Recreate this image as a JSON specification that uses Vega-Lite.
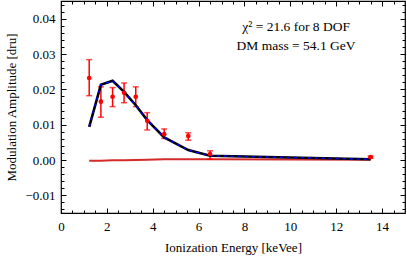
{
  "$schema": "https://vega.github.io/schema/vega-lite/v6.json",
  "autosize": "none",
  "width": 344,
  "height": 212,
  "padding": {"left": 61, "top": 1, "right": 2, "bottom": 46},
  "background": "white",
  "config": {
    "view": {"stroke": "black", "strokeWidth": 1.2},
    "font": "Liberation Serif",
    "axis": {"labelFont": "Liberation Serif", "titleFont": "Liberation Serif", "labelFontSize": 13, "titleFontSize": 13, "titleFontWeight": "normal", "labelColor": "black", "titleColor": "black", "tickColor": "black", "grid": false, "domain": false, "tickWidth": 1}
  },
  "datasets": {
    "pts": [
      {"e": 1.23, "amp": 0.0232, "lo": 0.0182, "hi": 0.0284},
      {"e": 1.74, "amp": 0.0165, "lo": 0.0121, "hi": 0.0207},
      {"e": 2.25, "amp": 0.0179, "lo": 0.0151, "hi": 0.0205},
      {"e": 2.75, "amp": 0.0190, "lo": 0.0162, "hi": 0.0218},
      {"e": 3.26, "amp": 0.0179, "lo": 0.0151, "hi": 0.0207},
      {"e": 3.76, "amp": 0.0111, "lo": 0.0085, "hi": 0.0134},
      {"e": 4.50, "amp": 0.0073, "lo": 0.0061, "hi": 0.0088},
      {"e": 5.55, "amp": 0.0068, "lo": 0.0056, "hi": 0.0077},
      {"e": 6.50, "amp": 0.0017, "lo": 0.0002, "hi": 0.0026},
      {"e": 13.5, "amp": 0.0008, "lo": 0.0005, "hi": 0.0011}
    ],
    "model": [
      {"e": 1.23, "fit": 0.0094, "bg": -0.0002},
      {"e": 1.74, "fit": 0.0213, "bg": -0.0002},
      {"e": 2.25, "fit": 0.0224, "bg": -0.0001},
      {"e": 2.75, "fit": 0.0193, "bg": -0.0001},
      {"e": 3.26, "fit": 0.0155, "bg": 0.0},
      {"e": 3.76, "fit": 0.0113, "bg": 0.0001},
      {"e": 4.50, "fit": 0.0064, "bg": 0.0002},
      {"e": 5.55, "fit": 0.0028, "bg": 0.0002},
      {"e": 6.50, "fit": 0.0012, "bg": 0.0002},
      {"e": 13.5, "fit": 0.0002, "bg": 0.0001}
    ],
    "notes": [
      {"e": 10.25, "y": 0.0364, "label": "χ² = 21.6 for 8 DOF"},
      {"e": 10.25, "y": 0.0310, "label": "DM mass = 54.1 GeV"}
    ]
  },
  "resolve": {"axis": {"x": "independent", "y": "independent"}},
  "layer": [
    {
      "mark": {"type": "rule", "color": "#b4b4b4", "strokeWidth": 1},
      "encoding": {
        "y": {"datum": 0, "type": "quantitative", "scale": {"domain": [-0.015, 0.045], "nice": false, "zero": false}, "axis": null}
      }
    },
    {
      "data": {"name": "model"},
      "mark": {"type": "line", "color": "#d42a2a", "strokeWidth": 2},
      "encoding": {
        "x": {"field": "e", "type": "quantitative", "scale": {"domain": [0, 15], "nice": false, "zero": false},
              "axis": {"orient": "bottom", "title": "Ionization Energy [keVee]", "values": [0, 2, 4, 6, 8, 10, 12, 14], "tickSize": -5, "labelPadding": 12, "titlePadding": 8, "labelFlush": false}},
        "y": {"field": "bg", "type": "quantitative", "scale": {"domain": [-0.015, 0.045], "nice": false, "zero": false},
              "axis": {"orient": "left", "title": "Modulation Amplitude [dru]", "values": [-0.01, 0, 0.01, 0.02, 0.03, 0.04], "format": ".2f", "tickSize": -5, "labelPadding": 11, "titlePadding": 6}}
      }
    },
    {
      "data": {"name": "pts"},
      "mark": {"type": "rule", "color": "#ff0000", "strokeWidth": 1.5},
      "encoding": {
        "x": {"field": "e", "type": "quantitative",
              "axis": {"orient": "bottom", "title": null, "labels": false, "values": [0.5, 1, 1.5, 2.5, 3, 3.5, 4.5, 5, 5.5, 6.5, 7, 7.5, 8.5, 9, 9.5, 10.5, 11, 11.5, 12.5, 13, 13.5, 14.5], "tickSize": -3}},
        "y": {"field": "lo", "type": "quantitative",
              "axis": {"orient": "left", "title": null, "labels": false, "values": [-0.014, -0.012, -0.008, -0.006, -0.004, -0.002, 0.002, 0.004, 0.006, 0.008, 0.012, 0.014, 0.016, 0.018, 0.022, 0.024, 0.026, 0.028, 0.032, 0.034, 0.036, 0.038, 0.042, 0.044], "tickSize": -3}},
        "y2": {"field": "hi"}
      }
    },
    {
      "data": {"name": "pts"},
      "mark": {"type": "tick", "color": "#ff0000", "orient": "horizontal", "size": 6, "thickness": 1.5},
      "encoding": {
        "x": {"field": "e", "type": "quantitative", "axis": null},
        "y": {"field": "lo", "type": "quantitative", "axis": null}
      }
    },
    {
      "data": {"name": "pts"},
      "mark": {"type": "tick", "color": "#ff0000", "orient": "horizontal", "size": 6, "thickness": 1.5},
      "encoding": {
        "x": {"field": "e", "type": "quantitative", "axis": null},
        "y": {"field": "hi", "type": "quantitative", "axis": null}
      }
    },
    {
      "data": {"name": "model"},
      "mark": {"type": "line", "color": "black", "strokeWidth": 2.6},
      "encoding": {
        "x": {"field": "e", "type": "quantitative",
              "axis": {"orient": "top", "title": null, "labels": false, "values": [0, 2, 4, 6, 8, 10, 12, 14], "tickSize": -5}},
        "y": {"field": "fit", "type": "quantitative",
              "axis": {"orient": "right", "title": null, "labels": false, "values": [-0.01, 0, 0.01, 0.02, 0.03, 0.04], "tickSize": -5}}
      }
    },
    {
      "data": {"name": "model"},
      "mark": {"type": "line", "color": "#0000ff", "strokeWidth": 1.6, "strokeDash": [3, 4]},
      "encoding": {
        "x": {"field": "e", "type": "quantitative",
              "axis": {"orient": "top", "title": null, "labels": false, "values": [0.5, 1, 1.5, 2.5, 3, 3.5, 4.5, 5, 5.5, 6.5, 7, 7.5, 8.5, 9, 9.5, 10.5, 11, 11.5, 12.5, 13, 13.5, 14.5], "tickSize": -3}},
        "y": {"field": "fit", "type": "quantitative",
              "axis": {"orient": "right", "title": null, "labels": false, "values": [-0.014, -0.012, -0.008, -0.006, -0.004, -0.002, 0.002, 0.004, 0.006, 0.008, 0.012, 0.014, 0.016, 0.018, 0.022, 0.024, 0.026, 0.028, 0.032, 0.034, 0.036, 0.038, 0.042, 0.044], "tickSize": -3}}
      }
    },
    {
      "data": {"name": "pts"},
      "mark": {"type": "circle", "color": "#ff0000", "opacity": 1, "size": 22},
      "encoding": {
        "x": {"field": "e", "type": "quantitative", "axis": null},
        "y": {"field": "amp", "type": "quantitative", "axis": null}
      }
    },
    {
      "data": {"name": "notes"},
      "mark": {"type": "text", "font": "Liberation Serif", "fontSize": 13.5, "align": "center", "baseline": "alphabetic", "color": "black"},
      "encoding": {
        "x": {"field": "e", "type": "quantitative", "axis": null},
        "y": {"field": "y", "type": "quantitative", "axis": null},
        "text": {"field": "label"}
      }
    }
  ]
}
